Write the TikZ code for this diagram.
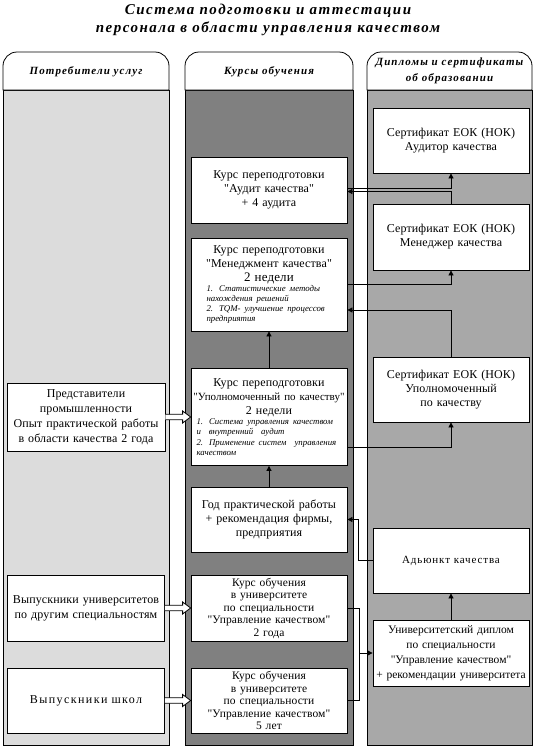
\documentclass[tikz,border=0pt]{standalone}
\usepackage{fontspec}
\setmainfont{Liberation Serif}
\newfontfamily\boxfont[LetterSpace=1,Ligatures=TeXOff]{Liberation Serif}
\newfontfamily\smfont[Ligatures=TeXOff]{Liberation Serif}
\newfontfamily\titlefont[LetterSpace=10]{Liberation Serif}
\usetikzlibrary{arrows.meta,calc}
\definecolor{colA}{RGB}{220,220,220}
\definecolor{colB}{RGB}{128,128,128}
\definecolor{colC}{RGB}{168,168,168}
\newcommand\itsm{\smfont\itshape\fontsize{8.8}{10.2}\selectfont}
\newcommand\hollowarr[2]{%
  \draw[fill=white,line width=0.8pt,line join=miter]
    ($(#1.east)+(0,-2.75)$) -- ($(#2.west)+(-8,-2.75)$) -- ($(#2.west)+(-8,-6)$)
    -- (#2.west) -- ($(#2.west)+(-8,6)$) -- ($(#2.west)+(-8,2.75)$)
    -- ($(#1.east)+(0,2.75)$);}
\begin{document}
\begin{tikzpicture}[x=1pt,y=-1pt,line width=0.8pt,
  bx/.style={draw,fill=white,minimum width=156pt,text width=153pt,inner sep=1.5pt,
    align=center,font=\boxfont\fontsize{12}{14}\selectfont},
  lead15/.style={font=\boxfont\fontsize{12}{15}\selectfont},
  lead12/.style={font=\boxfont\fontsize{11.5}{12.5}\selectfont},
  hdr/.style={align=center,font=\titlefont\bfseries\itshape\fontsize{11}{16}\selectfont},
  ttl/.style={align=center,font=\titlefont\bfseries\itshape\fontsize{15}{18}\selectfont},
  arr/.style={-{Triangle[length=5pt,width=5pt]}}]
\useasboundingbox (0,0) rectangle (536,747);
% title
\node[ttl] (title) at (268,19.5) {Система подготовки и аттестации\\персонала в области управления качеством};
% columns
\draw[fill=colA] (3,90) rectangle (169,745);
\draw[fill=white] (3,90) {[rounded corners=14pt] -- (3,52) -- (169,52)} -- (169,90) -- cycle;
\draw[fill=colB] (185,90) rectangle (353,745);
\draw[fill=white] (185,90) {[rounded corners=14pt] -- (185,52) -- (353,52)} -- (353,90) -- cycle;
\draw[fill=colC] (367,90) rectangle (532,745);
\draw[fill=white] (367,90) {[rounded corners=14pt] -- (367,52) -- (532,52)} -- (532,90) -- cycle;
\node[hdr] (h1) at (86,72) {Потребители услуг};
\node[hdr] (h2) at (269,72) {Курсы обучения};
\node[hdr] (h3) at (449.5,71) {Дипломы и сертификаты\\об образовании};
% left column
\node[bx,lead15,minimum width=158pt,text width=155pt,minimum height=68pt] (rep) at (86,417) {Представители\\промышленности\\Опыт практической работы\\в области качества 2 года};
\node[bx,lead15,minimum width=157pt,text width=154pt,minimum height=66pt] (grad) at (86,608) {Выпускники университетов\\по другим специальностям};
\node[bx,minimum width=157pt,text width=154pt,minimum height=65pt,font=\boxfont\fontsize{12}{14}\addfontfeature{LetterSpace=12}\selectfont] (school) at (86,700.5) {Выпускники школ};
% middle column
\node[bx,minimum height=66pt] (audit) at (269,190) {Курс переподготовки\\"Аудит качества"\\+ 4 аудита};
\node[bx,minimum height=93pt] (mgmt) at (269,284.5) {Курс переподготовки\\"Менеджмент качества"\\{\fontsize{13}{14}\selectfont 2 недели}\par
  \leftskip=14pt\rightskip=0pt plus 1fil\itsm 1. Статистические методы\\нахождения решений\\2. TQM- улучшение процессов\\предприятия\par};
\node[bx,minimum height=97pt] (upol) at (269,417) {Курс переподготовки\\{\smfont\fontsize{11}{14}\selectfont"Уполномоченный по качеству"}\\2 недели\par
  \leftskip=4pt\rightskip=0pt plus 1fil\itsm 1. Система управления качеством\\и\ \ внутренний\ \ аудит\\2. Применение систем\ \ управления\\качеством\par};
\node[bx,minimum height=65pt] (year) at (269,519.5) {Год практической работы\\+ рекомендация фирмы,\\предприятия};
\node[bx,lead12,minimum height=66pt] (u2) at (269,608) {Курс обучения\\в университете\\по специальности\\"Управление качеством"\\2 года};
\node[bx,lead12,minimum height=65pt] (u5) at (269,700.5) {Курс обучения\\в университете\\по специальности\\"Управление качеством"\\5 лет};
% right column
\node[bx,minimum height=65pt] (cAud) at (451,140.5) {Сертификат ЕОК (НОК)\\Аудитор качества};
\node[bx,minimum height=66pt] (cMgr) at (451,237) {Сертификат ЕОК (НОК)\\Менеджер качества};
\node[bx,minimum height=65pt] (cUpol) at (451,389.5) {Сертификат ЕОК (НОК)\\Уполномоченный\\по качеству};
\node[bx,minimum height=65pt,font=\boxfont\fontsize{11}{14}\addfontfeature{LetterSpace=8}\selectfont] (adj) at (451,560.5) {Адьюнкт качества};
\node[bx,font=\smfont\fontsize{11.5}{15}\selectfont,minimum height=66pt] (dipl) at (451,653) {Университетский диплом\\по специальности\\"Управление качеством"\\+ рекомендации университета};
% connectors
\draw[arr] ([yshift=2pt]audit.east) -| (cAud.south);
\draw[arr] (cMgr.north) |- ([yshift=-1.5pt]audit.east);
\draw[arr] (mgmt.east) -| (cMgr.south);
\draw[arr] (cUpol.north) |- ([yshift=-25.5pt]mgmt.east);
\draw[arr] (upol.north) -- (mgmt.south);
\draw[arr] ([yshift=-30pt]upol.east) -| (cUpol.south);
\draw[arr] (year.north) -- (upol.south);
\draw[arr] (adj.west) -- ++(-14,0) |- (year.east);
\draw[arr] (dipl.north) -- (adj.south);
\draw (u2.east) -- ++(12,0) coordinate (k1) -- (k1 |- u5.east) -- (u5.east);
\draw[arr] (k1 |- dipl.west) -- (dipl.west);
\hollowarr{rep}{upol}
\hollowarr{grad}{u2}
\hollowarr{school}{u5}
\end{tikzpicture}
\end{document}
